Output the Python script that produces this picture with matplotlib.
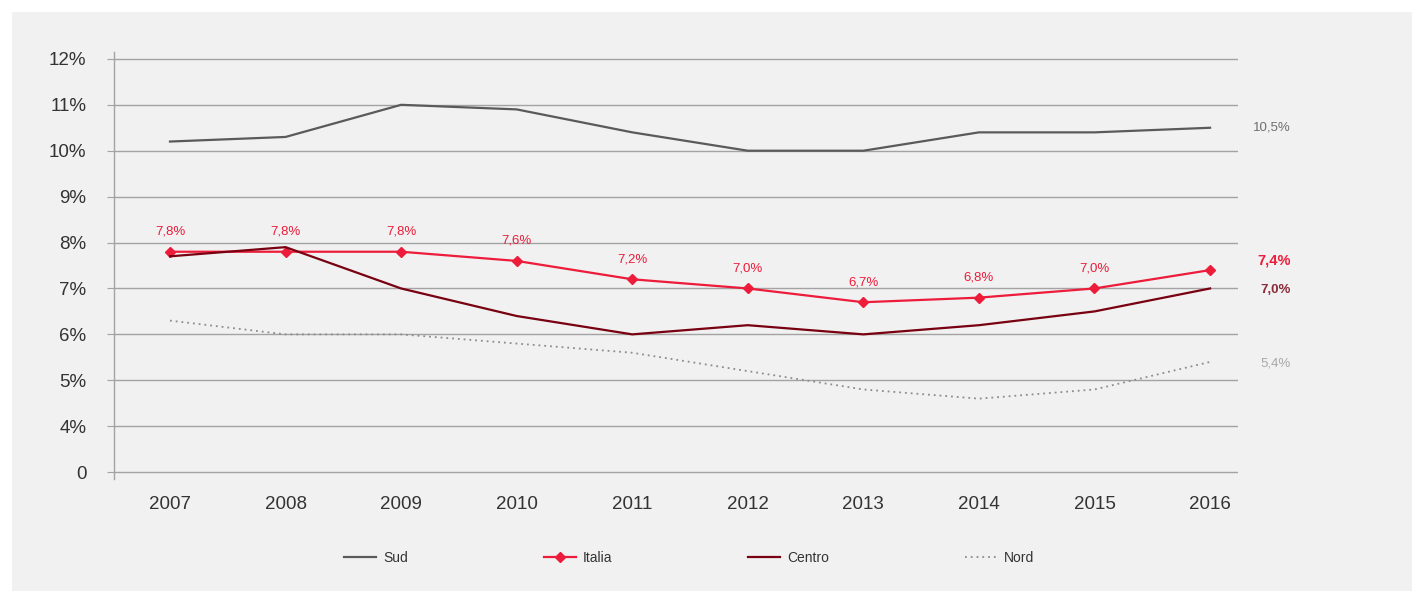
import matplotlib
matplotlib.use('Agg')
import matplotlib.pyplot as plt
from matplotlib.patches import Rectangle

plt.rcParams['font.family'] = ['Liberation Sans', 'DejaVu Sans']

anni = [2007, 2008, 2009, 2010, 2011, 2012, 2013, 2014, 2015, 2016]
sud = [10.2, 10.3, 11.0, 10.9, 10.4, 10.0, 10.0, 10.4, 10.4, 10.5]
italia = [7.8, 7.8, 7.8, 7.6, 7.2, 7.0, 6.7, 6.8, 7.0, 7.4]
centro = [7.7, 7.9, 7.0, 6.4, 6.0, 6.2, 6.0, 6.2, 6.5, 7.0]
nord = [6.3, 6.0, 6.0, 5.8, 5.6, 5.2, 4.8, 4.6, 4.8, 5.4]

# asse spezzato: la base "0" sta al posto del 3%
y_ticks = [3, 4, 5, 6, 7, 8, 9, 10, 11, 12]
y_labels = ['0', '4%', '5%', '6%', '7%', '8%', '9%', '10%', '11%', '12%']

ROSSO = '#ec1c3a'
BORDEAUX = '#780010'
GRIGIO_SCURO = '#5a5a5a'
GRIGIO = '#8c8c8c'
SFONDO = '#f1f1f1'

fig = plt.figure(figsize=(14.24, 5.91), dpi=100, facecolor='white')
sfondo = Rectangle((12 / 1424, 0), 1400 / 1424, 579 / 591,
                   transform=fig.transFigure, facecolor=SFONDO,
                   edgecolor='none', zorder=-10)
fig.patches.append(sfondo)

ax = fig.add_axes([0.0801, 0.1895, 0.7893, 0.7225])
ax.set_zorder(5)
ax.patch.set_alpha(0)

ax.plot(anni, sud, color=GRIGIO_SCURO, linewidth=1.6, label='Sud')
ax.plot(anni, italia, color=ROSSO, linewidth=1.6, marker='D', markersize=5.5,
        label='Italia')
ax.plot(anni, centro, color=BORDEAUX, linewidth=1.6, label='Centro')
ax.plot(anni, nord, color=GRIGIO, linewidth=1.3, linestyle=(0, (1, 2.2)),
        label='Nord')

for x, v in zip(anni[:-1], italia[:-1]):
    ax.annotate(f'{v:.1f}%'.replace('.', ','), (x, v), xytext=(0, 14.5),
                textcoords='offset points', ha='center', va='center',
                color=ROSSO, fontsize=9.5)

# etichette finali a destra
finali = [(sud[-1], 0, '#6e6e6e', 'normal', 9.5),
          (italia[-1], 7, ROSSO, 'bold', 10.5),
          (centro[-1], -1, '#8a2a3a', 'bold', 9.5),
          (nord[-1], -1, '#a8a8a8', 'normal', 9.5)]
for v, dy, col, peso, fs in finali:
    ax.annotate(f'{v:.1f}%'.replace('.', ','), (anni[-1], v), xytext=(58, dy),
                textcoords='offset points', ha='right', va='center',
                color=col, fontweight=peso, fontsize=fs, annotation_clip=False)

ax.set_xlim(2006.516, 2016.242)
ax.set_ylim(2.85, 12.15)
ax.set_yticks(y_ticks)
ax.set_yticklabels(y_labels)
ax.set_xticks(anni)
ax.grid(axis='y', color='#a3a3a3', linewidth=1)
ax.set_axisbelow(True)

for s in ['top', 'right', 'bottom']:
    ax.spines[s].set_visible(False)
ax.spines['left'].set_color('#a3a3a3')
ax.spines['left'].set_linewidth(1)

ax.tick_params(axis='y', length=5, color='#a3a3a3', pad=15, labelsize=13.5,
               labelcolor='#333333')
ax.tick_params(axis='x', length=0, pad=12, labelsize=13.5, labelcolor='#333333')

fig.legend(loc='center', bbox_to_anchor=(0.484, 0.056), ncol=4, frameon=False,
           fontsize=10, handlelength=2.3, handletextpad=0.5, columnspacing=9.8,
           labelcolor='#333333')

fig.savefig('out.png', dpi=100, facecolor=fig.get_facecolor())
